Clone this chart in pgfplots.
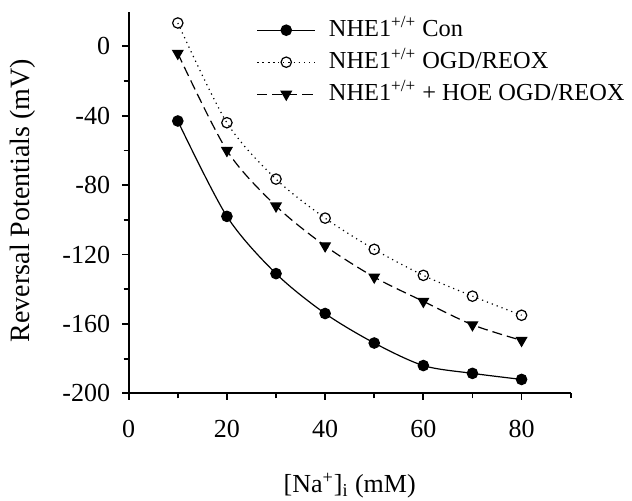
\documentclass[border=0pt]{standalone}
\usepackage{fontspec}
\setmainfont{Liberation Serif}
\usepackage{pgfplots}
\pgfplotsset{compat=1.18}

\begin{document}
\begin{tikzpicture}
\path[use as bounding box] (-64.35pt,-53.35pt) rectangle (251.65pt,196.65pt);
\begin{axis}[
  at={(0pt,0pt)}, anchor=south west,
  scale only axis, width=221pt, height=190.8pt,
  xmin=0, xmax=90, ymin=-200, ymax=20,
  axis lines*=left, axis line style={line width=1.1pt},
  xtick={0,20,40,60,80}, minor xtick={10,30,50,70,90},
  ytick={-200,-160,-120,-80,-40,0}, minor ytick={-180,-140,-100,-60,-20},
  tick align=outside, major tick length=3.3pt, minor tick length=2.5pt,
  tick style={line width=0.9pt, black},
  /pgf/number format/assume math mode=true,
  tick label style={font=\fontsize{13}{15}\selectfont},
  xticklabel style={yshift=-6.5pt},
  yticklabel style={xshift=-2.5pt},
  xlabel={[Na\textsuperscript{+}]\textsubscript{i} (mM)},
  ylabel={Reversal Potentials (mV)},
  xlabel style={font=\fontsize{13}{15}\selectfont, at={(axis description cs:0.5,0)}, anchor=center, yshift=-46.2pt},
  ylabel style={font=\fontsize{14}{16}\selectfont, at={(axis description cs:-0.239,0.505)}, anchor=center, rotate=0},
  legend cell align=left,
  legend style={draw=none, fill=none, font=\fontsize{12.2}{13}\selectfont,
    at={(axis description cs:0.275,1.005)}, anchor=north west,
    row sep=0pt,
    nodes={text height=9pt, text depth=2.5pt, inner ysep=2.25pt, inner xsep=3pt}},
  legend image code/.code={\draw[mark repeat=2,mark phase=2,#1] plot coordinates {(0cm,0cm) (0.51cm,0cm) (1.02cm,0cm)};},
]
\addplot[black, line width=0.6pt, smooth, mark=*, mark size=2.6pt, mark options={solid}]
  coordinates {(10,-43) (20,-98) (30,-131) (40,-154) (50,-171) (60,-184) (70,-188.5) (80,-192)};
\addlegendentry{\hspace{3.5pt}NHE1\textsuperscript{+/+} Con}
\addplot[black, line width=0.6pt, smooth, dotted, mark=o, mark size=2.6pt, mark options={solid, fill=white}]
  coordinates {(10,13.5) (20,-44) (30,-76.5) (40,-99) (50,-117) (60,-132) (70,-144) (80,-155)};
\addlegendentry{\hspace{3.5pt}NHE1\textsuperscript{+/+} OGD/REOX}
\addplot[black, line width=0.6pt, smooth, dash pattern=on 5pt off 2.5pt, mark=triangle*, mark size=2.9pt, mark options={solid, rotate=180}]
  coordinates {(10,-4) (20,-60) (30,-92) (40,-115) (50,-133) (60,-147) (70,-160.5) (80,-169.5)};
\addlegendentry{\hspace{3.5pt}NHE1\textsuperscript{+/+} + HOE OGD/REOX}
\end{axis}
\end{tikzpicture}
\end{document}
